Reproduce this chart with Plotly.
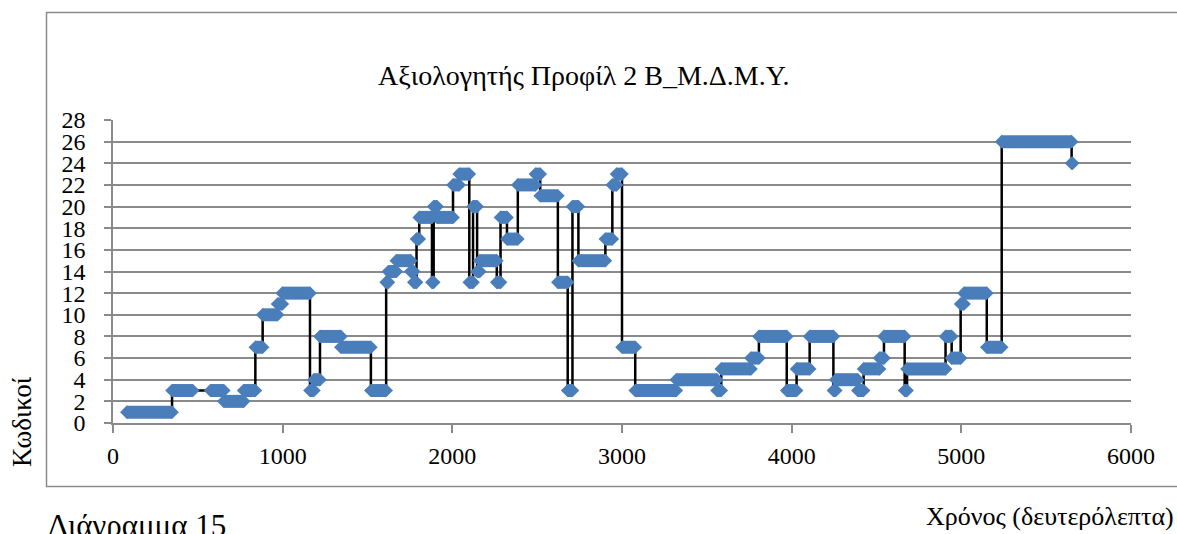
import plotly.graph_objects as go

# Coded observation runs: start time, end time (seconds) and code of each run.
# A run ending where the next begins gives a vertical step between codes.
run_start = [82, 348, 575, 653, 770, 839, 882, 970, 998, 1161, 1184, 1220, 1343, 1520,
             1610, 1623, 1670, 1755, 1773, 1789, 1805, 1880, 1890, 1910, 2004, 2040,
             2100, 2122, 2146, 2162, 2262, 2284, 2322, 2386, 2490, 2518, 2622, 2680,
             2708, 2743, 2902, 2943, 2968, 3000, 3078, 3320, 3560, 3585, 3760, 3807,
             3971, 4029, 4106, 4246, 4260, 4390, 4424, 4518, 4544, 4666, 4680, 4907,
             4943, 4996, 5016, 5150, 5238, 5650]
run_end = [348, 470, 653, 770, 839, 882, 970, 998, 1161, 1184, 1220, 1343, 1520, 1610,
           1623, 1670, 1755, 1773, 1789, 1805, 1880, 1890, 1910, 2004, 2040, 2100,
           2122, 2146, 2162, 2262, 2284, 2322, 2386, 2490, 2518, 2622, 2680, 2708,
           2743, 2902, 2943, 2968, 3000, 3078, 3320, 3560, 3585, 3760, 3807, 3971,
           4029, 4106, 4246, 4260, 4390, 4424, 4518, 4544, 4666, 4680, 4907, 4943,
           4996, 5016, 5150, 5238, 5650, 5656]
run_code = [1, 3, 3, 2, 3, 7, 10, 11, 12, 3, 4, 8, 7, 3,
            13, 14, 15, 14, 13, 17, 19, 13, 20, 19, 22, 23,
            13, 20, 14, 15, 13, 19, 17, 22, 23, 21, 13, 3,
            20, 15, 17, 22, 23, 7, 3, 4, 3, 5, 6, 8,
            3, 5, 8, 3, 4, 3, 5, 6, 8, 3, 5, 8,
            6, 11, 12, 7, 26, 24]

x_ticks = [0, 1000, 2000, 3000, 4000, 5000, 6000]
y_ticks = list(range(0, 29, 2))

title_text = "Αξιολογητής Προφίλ 2 Β_Μ.Δ.Μ.Υ."
y_title = "Κωδικοί"
x_title = "Χρόνος (δευτερόλεπτα)"
caption = "Διάγραμμα 15"

BLUE = "#4A7EBB"
GRID = "#8A8A8A"
FONT = "Liberation Serif"

# sample points in time order (start and end of every run)
px, py = [], []
bx, by = [], []
for s, e, v in zip(run_start, run_end, run_code):
    px += [s, e]
    py += [v, v]
    bx += [s, e, None]
    by += [v, v, None]

fig = go.Figure()
# connecting line
fig.add_trace(go.Scatter(x=px, y=py, mode="lines",
                         line=dict(color="black", width=2.5), hoverinfo="skip"))
# dense marker runs rendered as solid bands
fig.add_trace(go.Scatter(x=bx, y=by, mode="lines",
                         line=dict(color=BLUE, width=13), hoverinfo="skip"))
# diamond markers
fig.add_trace(go.Scatter(x=px, y=py, mode="markers",
                         marker=dict(symbol="diamond", size=10.5, color=BLUE,
                                     line=dict(width=0))))

W, H = 1177, 534
L, R, T, B = 113, 46, 120, 111
pw, ph = W - L - R, H - T - B


def xp(pix):
    return (pix - L) / pw


def yp(pix):
    return (H - B - pix) / ph


fig.update_layout(
    width=W, height=H,
    margin=dict(l=L, r=R, t=T, b=B),
    paper_bgcolor="white", plot_bgcolor="white",
    showlegend=False,
    font=dict(family=FONT, color="black", size=24),
    xaxis=dict(range=[0, 6000], tickvals=x_ticks, ticktext=[str(t) for t in x_ticks],
               showgrid=False, zeroline=False, showline=True, linecolor=GRID, linewidth=1.5,
               ticks="outside", ticklen=8, tickwidth=1.5, tickcolor=GRID,
               ticklabelstandoff=2, tickfont=dict(size=24, family=FONT, color="black")),
    yaxis=dict(range=[0, 28], tickvals=y_ticks, ticktext=[str(t) for t in y_ticks],
               showgrid=True, gridcolor=GRID, gridwidth=1.5, zeroline=False,
               showline=True, linecolor=GRID, linewidth=1.5,
               ticks="outside", ticklen=7, tickwidth=1.5, tickcolor=GRID,
               ticklabelstandoff=14, tickfont=dict(size=24, family=FONT, color="black")),
    shapes=[dict(type="rect", xref="paper", yref="paper",
                 x0=xp(46.5), x1=xp(1185), y0=yp(486.5), y1=yp(12.5),
                 line=dict(color=GRID, width=1.5), fillcolor="rgba(0,0,0,0)", layer="below")],
    annotations=[
        dict(text=title_text, xref="paper", yref="paper", x=xp(584), y=yp(75),
             xanchor="center", yanchor="middle", showarrow=False,
             font=dict(size=28, family=FONT, color="black")),
        dict(text=y_title, xref="paper", yref="paper", x=xp(22), y=yp(422),
             xanchor="center", yanchor="middle", textangle=-90, showarrow=False,
             font=dict(size=27, family=FONT, color="black")),
        dict(text=x_title, xref="paper", yref="paper", x=xp(1050), y=yp(516),
             xanchor="center", yanchor="middle", showarrow=False,
             font=dict(size=26, family=FONT, color="black")),
        dict(text=caption, xref="paper", yref="paper", x=xp(46), y=yp(506),
             xanchor="left", yanchor="top", showarrow=False,
             font=dict(size=31, family=FONT, color="black")),
    ],
)

fig.write_html("out.html")
